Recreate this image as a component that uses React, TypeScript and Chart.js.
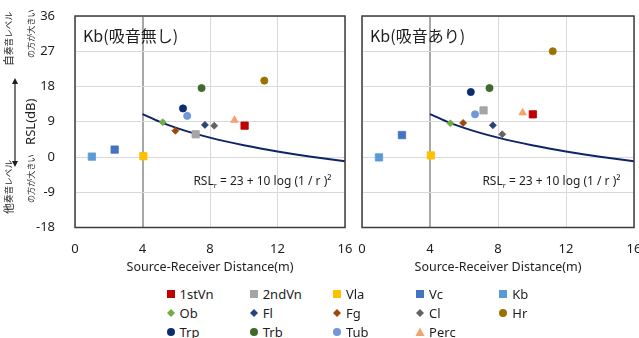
import React, { useEffect, useRef } from "react";
import { Chart, registerables } from "chart.js";

Chart.register(...registerables);

// ---------- data ----------
const instruments = ["1stVn", "2ndVn", "Vla", "Vc", "Kb", "Ob", "Fl", "Fg", "Cl", "Hr", "Trp", "Trb", "Tub", "Perc"];
const colors = ["#c00000", "#a5a5a5", "#ffc000", "#4472c4", "#5b9bd5", "#70ad47", "#264478", "#9e480e", "#636363", "#997300", "#0d2d6c", "#43682b", "#6f97d9", "#f4a36f"];
const shapes = ["rect", "rect", "rect", "rect", "rect", "rectRot", "rectRot", "rectRot", "rectRot", "circle", "circle", "circle", "circle", "triangle"];
const distances = [10.05, 7.15, 4.05, 2.35, 1.0, 5.2, 7.7, 5.95, 8.25, 11.22, 6.4, 7.5, 6.65, 9.45];
const rslNoAbsorb = [8.0, 5.8, 0.2, 1.9, 0.1, 8.9, 8.2, 6.7, 8.0, 19.5, 12.4, 17.6, 10.5, 9.4];
const rslAbsorb = [10.9, 11.9, 0.4, 5.6, -0.1, 8.6, 8.1, 8.7, 5.8, 27.0, 16.6, 17.6, 10.9, 11.3];
const curveDist = [4, 5, 6, 7, 8, 9, 10, 11, 12, 13, 14, 15, 16];
const curveRsl = [10.96, 9.02, 7.44, 6.1, 4.94, 3.92, 3.0, 2.17, 1.42, 0.72, 0.08, -0.52, -1.08];
const xRange = [0, 16];
const xStep = 4;
const yRange = [-18, 36];
const yStep = 9;
const panelTitles = ["Kb(吸音無し)", "Kb(吸音あり)"];
const xTitle = "Source-Receiver Distance(m)";
const yTitle = "RSL(dB)";

const LATIN = "'Noto Sans', sans-serif";
const CJK = "'Noto Sans CJK JP', 'Noto Sans', sans-serif";
const TEXT = "#1e1e1e";

function radiusFor(shape: string) {
  if (shape === "rect") return 5.2;
  if (shape === "rectRot") return 3.5;
  if (shape === "triangle") return 4.4;
  return 3.6;
}

function makePanelPlugin(title: string) {
  return {
    id: "panelDecor",
    afterDraw(chart: any) {
      const { ctx, chartArea } = chart;
      const { left, right, top, bottom } = chartArea;
      ctx.save();
      // frame
      ctx.strokeStyle = "#3c3c3c";
      ctx.lineWidth = 1.5;
      ctx.strokeRect(left, top, right - left, bottom - top);
      // panel title
      ctx.fillStyle = TEXT;
      ctx.font = `16px ${CJK}`;
      ctx.textBaseline = "middle";
      ctx.textAlign = "left";
      ctx.fillText(title, left + 8, top + 19.5);
      // formula
      const fs = 12;
      const a = "RSL";
      const sub = "r";
      const b = " = 23 + 10 log (1 / r )²";
      ctx.font = `${fs}px ${LATIN}`;
      const wa = ctx.measureText(a).width;
      const wb = ctx.measureText(b).width;
      ctx.font = `7.5px ${LATIN}`;
      const ws = ctx.measureText(sub).width;
      const total = wa + ws + wb;
      let x = right - 13.5 - total;
      const y = bottom - 45.5;
      ctx.font = `${fs}px ${LATIN}`;
      ctx.fillText(a, x, y);
      x += wa;
      ctx.font = `7.5px ${LATIN}`;
      ctx.fillText(sub, x, y + 4);
      x += ws;
      ctx.font = `${fs}px ${LATIN}`;
      ctx.fillText(b, x, y);
      ctx.restore();
    },
  };
}

const sideNotes = {
  id: "sideNotes",
  afterDraw(chart: any) {
    const { ctx } = chart;
    ctx.save();
    ctx.fillStyle = TEXT;
    ctx.strokeStyle = TEXT;
    // double arrow
    const ax = 15;
    const y1 = 78;
    const y2 = 167;
    ctx.lineWidth = 1.2;
    ctx.beginPath();
    ctx.moveTo(ax, y1 + 4);
    ctx.lineTo(ax, y2 - 4);
    ctx.stroke();
    ctx.beginPath();
    ctx.moveTo(ax, y1);
    ctx.lineTo(ax - 3, y1 + 6);
    ctx.lineTo(ax + 3, y1 + 6);
    ctx.closePath();
    ctx.fill();
    ctx.beginPath();
    ctx.moveTo(ax, y2);
    ctx.lineTo(ax - 3, y2 - 6);
    ctx.lineTo(ax + 3, y2 - 6);
    ctx.closePath();
    ctx.fill();

    const vText = (cx: number, startY: number, parts: Array<[string, number]>) => {
      ctx.save();
      ctx.translate(cx, startY);
      ctx.rotate(-Math.PI / 2);
      ctx.textBaseline = "middle";
      ctx.textAlign = "left";
      let x = 0;
      for (const [t, s] of parts) {
        ctx.font = `${s}px ${CJK}`;
        ctx.fillText(t, x, 0);
        x += ctx.measureText(t).width;
      }
      ctx.restore();
    };
    vText(8.5, 66, [["自", 11], ["奏音レベル", 8.6]]);
    vText(30.5, 58, [["の方が大きい", 8.1]]);
    vText(8.5, 214, [["他", 11], ["奏音レベル", 8.6]]);
    vText(30.5, 203, [["の方が大きい", 8.1]]);
    ctx.restore();
  },
};

const CLEAR = "rgba(0,0,0,0)";

function buildChart(canvas: HTMLCanvasElement, values: number[], title: string, isLeft: boolean) {
  const datasets: any[] = [
    {
      type: "line",
      label: "curve",
      data: curveDist.map((d, i) => ({ x: d, y: curveRsl[i] })),
      borderColor: "#0b2566",
      borderWidth: 2,
      pointRadius: 0,
      showLine: true,
      fill: false,
      cubicInterpolationMode: "monotone",
      order: 1,
    },
  ];
  instruments.forEach((name, i) => {
    datasets.push({
      type: "scatter",
      label: name,
      data: [{ x: distances[i], y: values[i] }],
      pointStyle: shapes[i],
      pointRadius: radiusFor(shapes[i]),
      backgroundColor: colors[i],
      borderColor: colors[i],
      borderWidth: 0.8,
      order: 0,
    });
  });

  return new Chart(canvas, {
    type: "scatter",
    data: { datasets },
    options: {
      animation: false,
      responsive: false,
      devicePixelRatio: 1,
      events: [],
      layout: { padding: { top: 16, right: 8, bottom: 0, left: 0 } },
      plugins: { legend: { display: false }, tooltip: { enabled: false } },
      scales: {
        x: {
          type: "linear",
          min: xRange[0],
          max: xRange[1],
          ticks: { stepSize: xStep, padding: 0, color: TEXT, font: { family: LATIN, size: 13 } },
          grid: {
            drawTicks: true,
            tickLength: 14,
            tickColor: CLEAR,
            color: (c: any) => (c.tick && c.tick.value === 4 ? "#a8a8a8" : "#d9d9d9"),
            lineWidth: (c: any) => (c.tick && c.tick.value === 4 ? 2 : 1),
          },
          border: { display: false },
          title: {
            display: true,
            text: xTitle,
            color: TEXT,
            font: { family: LATIN, size: 12.5 },
            padding: { top: 0, bottom: 5 },
          },
          afterFit: (s: any) => {
            s.height = 52.5;
          },
        },
        y: {
          type: "linear",
          min: yRange[0],
          max: yRange[1],
          ticks: { display: isLeft, stepSize: yStep, padding: 0, color: TEXT, font: { family: LATIN, size: 13 } },
          grid: { drawTicks: true, tickLength: 20, tickColor: CLEAR, color: "#d9d9d9", lineWidth: 1 },
          border: { display: false },
          title: {
            display: isLeft,
            text: yTitle,
            color: TEXT,
            font: { family: LATIN, size: 13 },
            padding: { top: 23, bottom: 0 },
          },
          afterFit: (s: any) => {
            s.width = isLeft ? 75 : 12;
          },
        },
      },
    } as any,
    plugins: isLeft ? [makePanelPlugin(title), sideNotes] : [makePanelPlugin(title)],
  });
}

function LegendMarker({ shape, color }: { shape: string; color: string }) {
  let el: any;
  if (shape === "rect") el = <rect x={1} y={1} width={8} height={8} fill={color} />;
  else if (shape === "rectRot") el = <polygon points="5,1 9,5 5,9 1,5" fill={color} />;
  else if (shape === "triangle") el = <polygon points="5,0.5 9.5,9 0.5,9" fill={color} />;
  else el = <circle cx={5} cy={5} r={4} fill={color} />;
  return (
    <svg width={10} height={10} style={{ position: "absolute", left: 0, top: -5 }}>
      {el}
    </svg>
  );
}

export default function App() {
  const leftRef = useRef<HTMLCanvasElement>(null);
  const rightRef = useRef<HTMLCanvasElement>(null);

  useEffect(() => {
    const c1 = buildChart(leftRef.current!, rslNoAbsorb, panelTitles[0], true);
    const c2 = buildChart(rightRef.current!, rslAbsorb, panelTitles[1], false);
    return () => {
      c1.destroy();
      c2.destroy();
    };
  }, []);

  const colStart = 165.5;
  const colStep = 83.2;
  const rowY = [294, 313, 332];

  return (
    <div
      style={{
        position: "fixed",
        left: 0,
        top: 0,
        width: 639,
        height: 338,
        overflow: "hidden",
        background: "#fff",
      }}
    >
      <canvas ref={leftRef} width={353} height={280} style={{ position: "absolute", left: 0, top: 0 }} />
      <canvas ref={rightRef} width={292} height={280} style={{ position: "absolute", left: 350, top: 0 }} />
      {instruments.map((name, i) => {
        const col = i % 5;
        const row = Math.floor(i / 5);
        return (
          <div
            key={name}
            style={{
              position: "absolute",
              left: colStart + col * colStep,
              top: rowY[row],
              height: 0,
            }}
          >
            <LegendMarker shape={shapes[i]} color={colors[i]} />
            <span
              style={{
                position: "absolute",
                left: 14,
                top: -9,
                fontFamily: LATIN,
                fontSize: 13,
                lineHeight: "18px",
                color: TEXT,
                whiteSpace: "nowrap",
              }}
            >
              {name}
            </span>
          </div>
        );
      })}
    </div>
  );
}
